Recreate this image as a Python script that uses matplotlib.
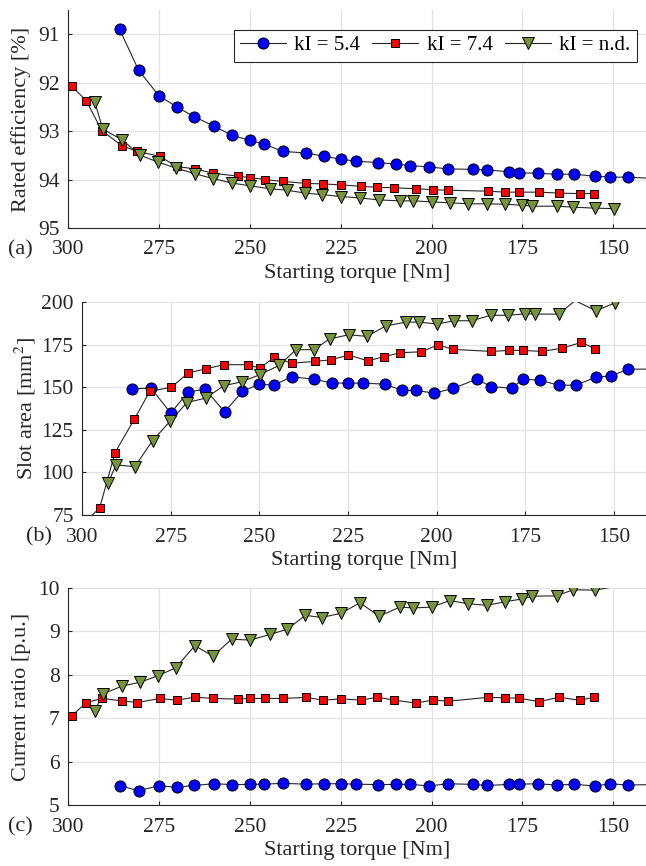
"""Starting torque trade-off: efficiency, slot area and current ratio."""

import matplotlib

matplotlib.use("Agg")
import matplotlib.pyplot as plt
import numpy as np
from matplotlib.lines import Line2D

plt.rcParams["font.family"] = ["Liberation Serif", "DejaVu Serif"]
plt.rcParams["mathtext.fontset"] = "stix"

# ---- data ----
torque_k54 = [285.8, 280.6, 275.0, 270.1, 265.3, 259.8, 254.8, 250.0, 246.0, 240.8,
              234.6, 229.5, 225.0, 220.7, 214.7, 209.7, 205.8, 200.7, 195.4, 188.7,
              184.7, 178.7, 175.8, 170.8, 165.6, 160.8, 155.0, 150.8, 146.0, 136.0]
torque_k74 = [299.0, 295.0, 290.7, 285.2, 280.9, 274.8, 270.1, 265.1, 260.0, 253.3,
              249.9, 245.8, 240.9, 234.4, 229.8, 224.9, 219.3, 214.9, 210.3, 204.3,
              199.5, 195.5, 184.6, 179.7, 175.8, 170.4, 164.8, 159.2, 155.4]
torque_knd = [292.7, 290.4, 285.1, 280.1, 275.2, 270.4, 265.1, 260.1, 255.0, 249.9,
              244.4, 239.7, 234.7, 230.2, 224.8, 219.7, 214.4, 208.7, 205.0, 200.0,
              195.0, 190.1, 184.8, 179.9, 175.0, 172.3, 165.6, 161.0, 155.1, 149.8]

eff_k54 = [90.90, 91.74, 92.27, 92.50, 92.70, 92.90, 93.09, 93.19, 93.27, 93.42,
           93.45, 93.52, 93.58, 93.62, 93.65, 93.68, 93.71, 93.74, 93.78, 93.79,
           93.80, 93.84, 93.86, 93.87, 93.89, 93.89, 93.93, 93.95, 93.95, 93.99]
eff_k74 = [92.07, 92.37, 92.99, 93.30, 93.42, 93.52, 93.73, 93.78, 93.87, 93.93,
           93.96, 94.00, 94.04, 94.08, 94.09, 94.11, 94.14, 94.16, 94.17, 94.19,
           94.21, 94.22, 94.24, 94.26, 94.26, 94.26, 94.28, 94.29, 94.29]
eff_knd = [92.39, 92.96, 93.18, 93.50, 93.64, 93.76, 93.88, 93.98, 94.07, 94.13,
           94.19, 94.22, 94.28, 94.31, 94.35, 94.38, 94.42, 94.44, 94.44, 94.46,
           94.48, 94.50, 94.50, 94.51, 94.53, 94.55, 94.55, 94.57, 94.59, 94.60]

slot_k54 = [148.9, 149.6, 134.8, 147.1, 148.9, 135.5, 147.5, 151.8, 151.2, 156.1,
            154.7, 152.4, 152.4, 152.4, 151.8, 148.1, 148.1, 146.5, 149.3, 154.7,
            150.4, 149.3, 154.9, 154.0, 151.2, 151.2, 155.9, 156.7, 160.6, 160.6]
slot_k74 = [71.0, 79.3, 111.6, 131.4, 147.5, 150.0, 158.3, 160.8, 163.2, 163.2,
            161.2, 167.5, 164.1, 165.1, 166.1, 168.8, 165.5, 167.9, 170.2, 170.8,
            174.9, 172.2, 171.0, 171.6, 171.6, 171.0, 172.8, 176.3, 172.6]
slot_knd = [93.6, 104.4, 103.4, 118.7, 129.9, 141.0, 143.6, 150.8, 153.2, 157.3,
            162.8, 172.0, 172.0, 178.3, 180.8, 179.8, 185.9, 188.2, 188.2, 187.1,
            189.0, 189.0, 192.2, 192.2, 193.1, 192.9, 192.9, 200.8, 194.9, 199.4]

cur_k54 = [5.445, 5.33, 5.445, 5.41, 5.45, 5.49, 5.47, 5.475, 5.48, 5.50,
           5.48, 5.49, 5.49, 5.48, 5.47, 5.475, 5.475, 5.44, 5.49, 5.475,
           5.45, 5.475, 5.48, 5.49, 5.46, 5.475, 5.44, 5.49, 5.46, 5.475]
cur_k74 = [7.055, 7.355, 7.455, 7.40, 7.36, 7.455, 7.415, 7.485, 7.455, 7.44,
           7.455, 7.455, 7.455, 7.48, 7.415, 7.445, 7.415, 7.485, 7.415, 7.35,
           7.42, 7.39, 7.48, 7.47, 7.46, 7.38, 7.485, 7.41, 7.485]
cur_knd = [7.16, 7.56, 7.74, 7.83, 7.98, 8.16, 8.67, 8.43, 8.82, 8.80,
           8.93, 9.05, 9.37, 9.32, 9.42, 9.66, 9.35, 9.56, 9.54, 9.56,
           9.71, 9.64, 9.60, 9.68, 9.75, 9.81, 9.82, 9.96, 9.95, 10.03]

labels = ["kI = 5.4", "kI = 7.4", "kI = n.d."]
torques = [torque_k54, torque_k74, torque_knd]

STYLES = [
    dict(marker="o", color="#0000ff", ms=8.0),
    dict(marker="s", color="#ff0000", ms=6.2),
    dict(marker="v", color="#77933c", ms=8.2),
]
LINE_COLOR = "#262626"
XLIM = (300, 141)

W, H = 646, 866


def px_axes(fig, left, top, right, bottom):
    return fig.add_axes([left / W, 1 - bottom / H, (right - left) / W, (bottom - top) / H])


def draw_series(ax, x, y, style, ylim):
    x = np.asarray(x)
    y = np.asarray(y, dtype=float)
    ax.plot(x, y, color=LINE_COLOR, lw=0.8, zorder=2)
    lo, hi = min(ylim), max(ylim)
    inside = (y >= lo) & (y <= hi) & (x <= max(XLIM)) & (x >= min(XLIM))
    ax.plot(x[inside], y[inside], ls="none", marker=style["marker"],
            ms=style["ms"], mfc=style["color"], mec="black", mew=0.7, zorder=3)


def style_axes(ax, ylim, yticks, ylabel, tag, tag_px):
    ax.set_xlim(*XLIM)
    ax.set_ylim(*ylim)
    ax.set_xticks([300, 275, 250, 225, 200, 175, 150])
    ax.set_yticks(yticks)
    ax.grid(True, color="#e3e3e3", lw=0.9, zorder=0)
    ax.set_axisbelow(True)
    for side in ("top", "right"):
        ax.spines[side].set_visible(False)
    for side in ("left", "bottom"):
        ax.spines[side].set_color("#262626")
        ax.spines[side].set_linewidth(0.8)
    ax.tick_params(direction="in", length=3, width=0.8, labelsize=15.5,
                   colors="#262626")
    ax.tick_params(axis="x", pad=9)
    ax.tick_params(axis="y", pad=6)
    ax.set_xlabel("Starting torque [Nm]", fontsize=16, color="#262626", labelpad=3)
    ax.set_ylabel(ylabel, fontsize=16, color="#262626")
    # panel tag sits level with the x tick labels
    bbox = ax.get_position()
    ax_w = bbox.width * W
    ax_h = bbox.height * H
    ax.text((tag_px - bbox.x0 * W) / ax_w, -22 / ax_h, tag, transform=ax.transAxes,
            fontsize=16, ha="center", va="center", color="#262626")


fig = plt.figure(figsize=(W / 100, H / 100), dpi=100)

panels = [
    (px_axes(fig, 68, 10, 646, 228), [eff_k54, eff_k74, eff_knd], (95, 90.5),
     [91, 92, 93, 94, 95], "Rated efficiency [%]", "(a)", 20, 31),
    (px_axes(fig, 82, 302, 646, 515), [slot_k54, slot_k74, slot_knd], (75, 200),
     [75, 100, 125, 150, 175, 200], "Slot area [mm$^2$]", "(b)", 39, 38),
    (px_axes(fig, 68, 588, 646, 805), [cur_k54, cur_k74, cur_knd], (5, 10),
     [5, 6, 7, 8, 9, 10], "Current ratio [p.u.]", "(c)", 20, 31),
]

for ax, series, ylim, yticks, ylabel, tag, tag_px, ylab_px in panels:
    for x, y, style in zip(torques, series, STYLES):
        draw_series(ax, x, y, style, ylim)
    style_axes(ax, ylim, yticks, ylabel, tag, tag_px)
    bbox = ax.get_position()
    ax.yaxis.set_label_coords((ylab_px - bbox.x0 * W) / (bbox.width * W), 0.5)

ax_a = panels[0][0]
handles = [
    Line2D([], [], color=LINE_COLOR, lw=0.8, marker=s["marker"], ms=s["ms"],
           mfc=s["color"], mec="black", mew=0.7)
    for s in STYLES
]
leg = ax_a.legend(handles, labels, ncol=3, loc="upper right",
                  bbox_to_anchor=(0.984, 0.91), fontsize=15, frameon=True,
                  fancybox=False, edgecolor="#262626", framealpha=1,
                  handlelength=2.2, handletextpad=0.4, columnspacing=0.6,
                  borderpad=0.3, borderaxespad=0.0)
leg.get_frame().set_linewidth(0.8)

fig.savefig("out.png", dpi=100)
